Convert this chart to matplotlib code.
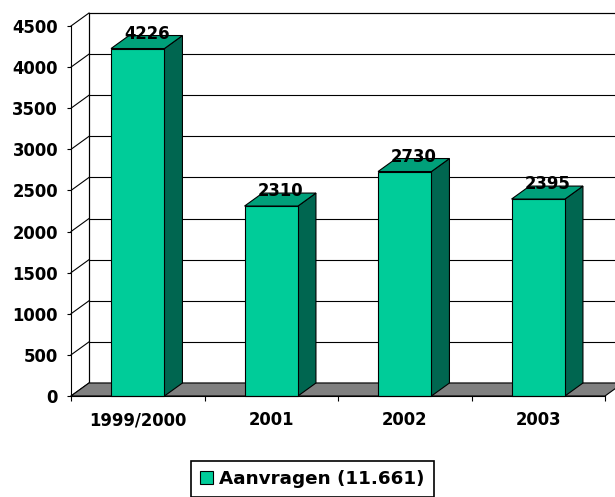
import matplotlib
matplotlib.use("Agg")
import matplotlib.pyplot as plt
from matplotlib.patches import Rectangle, Polygon, Patch

categories = ["1999/2000", "2001", "2002", "2003"]
values = [4226, 2310, 2730, 2395]
series_label = "Aanvragen (11.661)"
yticks = [0, 500, 1000, 1500, 2000, 2500, 3000, 3500, 4000, 4500]

FRONT = "#00CC99"
TOP = "#00A07A"
SIDE = "#006650"
FLOOR = "#808080"
LW = 0.8

plt.rcParams['font.family'] = ['DejaVu Sans']
plt.rcParams['font.weight'] = 'bold'

W, H = 615, 497
fig = plt.figure(figsize=(W / 100, H / 100), dpi=100)
left, right, bottom, top = 71, 605, 396, 26
ax = fig.add_axes([left / W, (H - bottom) / H, (right - left) / W, (bottom - top) / H])
ax.set_xlim(-0.5, len(categories) - 0.5)
ax.set_ylim(0, 4500)
ax.patch.set_visible(False)

# depth offset, converted from pixels into data units
DX_PX, DY_PX = 18, 13
dxd = DX_PX * len(categories) / (right - left)
dyd = DY_PX * 4500 / (bottom - top)
x0, x1 = -0.5, len(categories) - 0.5

# back wall
ax.add_patch(Rectangle((x0 + dxd, dyd), x1 - x0, 4500, fc="white", ec="black",
                       lw=LW, clip_on=False, zorder=0))
for v in yticks:
    ax.plot([x0 + dxd, x1 + dxd], [v + dyd, v + dyd], color="black", lw=LW,
            clip_on=False, zorder=1)
    ax.plot([x0, x0 + dxd], [v, v + dyd], color="black", lw=LW,
            clip_on=False, zorder=1)
ax.plot([x0 + dxd, x0 + dxd], [dyd, 4500 + dyd], color="black", lw=LW,
        clip_on=False, zorder=1)

# floor
ax.add_patch(Polygon([(x0, 0), (x1, 0), (x1 + dxd, dyd), (x0 + dxd, dyd)],
                     closed=True, fc=FLOOR, ec="black", lw=LW, clip_on=False, zorder=2))

# bars
w = 0.4
for i, v in enumerate(values):
    xl, xr = i - w / 2, i + w / 2
    ax.add_patch(Polygon([(xr, 0), (xr + dxd, dyd), (xr + dxd, v + dyd), (xr, v)],
                         closed=True, fc=SIDE, ec="black", lw=LW, clip_on=False, zorder=3))
    ax.add_patch(Polygon([(xl, v), (xr, v), (xr + dxd, v + dyd), (xl + dxd, v + dyd)],
                         closed=True, fc=TOP, ec="black", lw=LW, clip_on=False, zorder=3))
    ax.add_patch(Rectangle((xl, 0), w, v, fc=FRONT, ec="black", lw=LW,
                           clip_on=False, zorder=4))
    ax.text(i + dxd / 2, v + dyd + 2 * 4500 / (bottom - top), str(v),
            ha="center", va="center", fontsize=11.9, fontweight="bold",
            zorder=6, clip_on=False)

# axes styling
for s in ["top", "right"]:
    ax.spines[s].set_visible(False)
ax.spines["left"].set_linewidth(LW)
ax.spines["bottom"].set_linewidth(LW)
ax.spines["left"].set_zorder(5)
ax.spines["bottom"].set_zorder(5)

ax.set_yticks(yticks)
ax.set_yticklabels([str(t) for t in yticks], fontsize=11.9, fontweight="bold")
ax.tick_params(axis="y", length=3, width=LW, pad=6.3)

ax.set_xticks(range(len(categories)))
ax.set_xticklabels(categories, fontsize=11.9, fontweight="bold")
ax.set_xticks([x0 + k for k in range(len(categories) + 1)], minor=True)
ax.tick_params(axis="x", which="major", length=0, pad=11)
ax.tick_params(axis="x", which="minor", length=3.6, width=LW, direction="out")

leg = fig.legend(handles=[Patch(fc=FRONT, ec="black", lw=LW)], labels=[series_label],
                 loc="upper left", bbox_to_anchor=(191 / W, 1 - 461 / H),
                 frameon=True, fancybox=False, edgecolor="black", framealpha=1,
                 handlelength=0.72, handleheight=0.72, handletextpad=0.3,
                 borderpad=0.5, borderaxespad=0,
                 prop={"size": 13.2, "weight": "bold"})
leg.get_frame().set_linewidth(1.2)

fig.savefig("out.png", dpi=100)
